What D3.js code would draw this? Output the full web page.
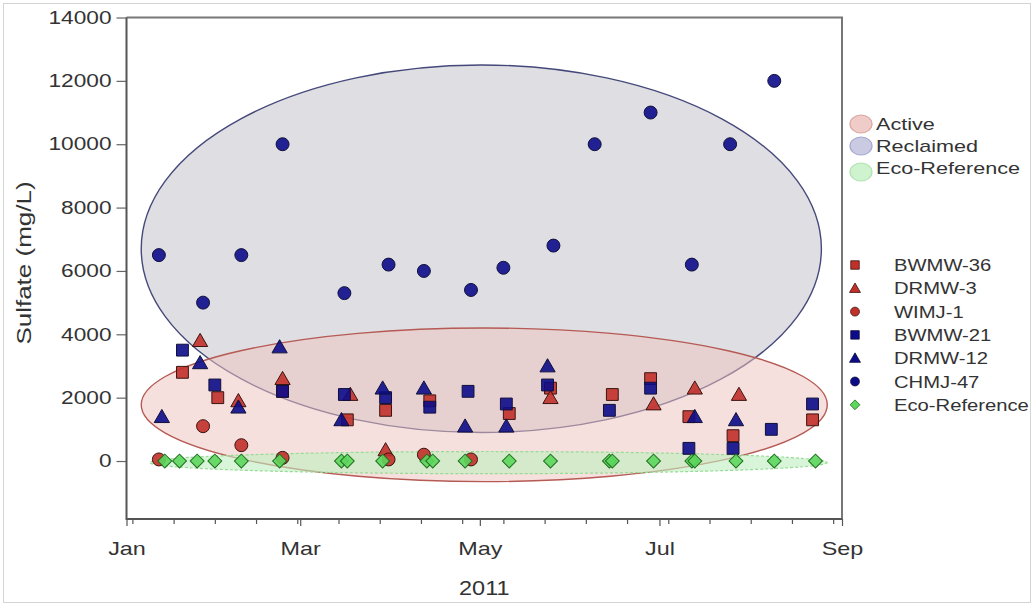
<!DOCTYPE html>
<html>
<head>
<meta charset="utf-8">
<script src="https://cdn.jsdelivr.net/npm/d3@7/dist/d3.min.js"></script>
<style>
  html, body { margin: 0; padding: 0; background: #fff; }
  svg { display: block; font-family: "Liberation Sans", Arial, sans-serif; }
</style>
</head>
<body>
<svg id="chart" width="1034" height="606"></svg>
<script>
// ---- data -------------------------------------------------------------
const yTickValues = [0, 2000, 4000, 6000, 8000, 10000, 12000, 14000];
const xTickLabels = ["Jan", "Mar", "May", "Jul", "Sep"];
const xDomain = ["2011-01-01", "2011-09-01"];
const yDomain = [-1830, 14000];

const bwmw36Dates  = ["2011-01-20","2011-02-01","2011-02-23","2011-03-17","2011-03-30","2011-04-14","2011-05-11","2011-05-25","2011-06-15","2011-06-28","2011-07-11","2011-07-26","2011-08-22"];
const bwmw36Values = [2800, 2000, 2200, 1300, 1600, 1900, 1500, 2300, 2100, 2600, 1400, 800, 1300];

const drmw3Dates  = ["2011-01-26","2011-02-08","2011-02-23","2011-03-18","2011-03-30","2011-05-25","2011-06-29","2011-07-13","2011-07-28"];
const drmw3Values = [3800, 1900, 2600, 2100, 350, 2000, 1800, 2300, 2100];

const wimj1Dates  = ["2011-01-12","2011-01-27","2011-02-09","2011-02-23","2011-03-31","2011-04-12","2011-04-28"];
const wimj1Values = [50, 1100, 500, 100, 50, 200, 50];

const bwmw21Dates  = ["2011-01-20","2011-01-31","2011-02-23","2011-03-16","2011-03-30","2011-04-14","2011-04-27","2011-05-10","2011-05-24","2011-06-14","2011-06-28","2011-07-11","2011-07-26","2011-08-08","2011-08-22"];
const bwmw21Values = [3500, 2400, 2200, 2100, 2000, 1700, 2200, 1800, 2400, 1600, 2300, 400, 400, 1000, 1800];

const drmw12Dates  = ["2011-01-13","2011-01-26","2011-02-08","2011-02-22","2011-03-15","2011-03-29","2011-04-12","2011-04-26","2011-05-10","2011-05-24","2011-07-13","2011-07-27"];
const drmw12Values = [1400, 3100, 1700, 3600, 1300, 2300, 2300, 1100, 1100, 3000, 1400, 1300];

const chmj47Dates  = ["2011-01-12","2011-01-27","2011-02-09","2011-02-23","2011-03-16","2011-03-31","2011-04-12","2011-04-28","2011-05-09","2011-05-26","2011-06-09","2011-06-28","2011-07-12","2011-07-25","2011-08-09"];
const chmj47Values = [6500, 5000, 6500, 10000, 5300, 6200, 6000, 5400, 6100, 6800, 10000, 11000, 6200, 10000, 12000];

const ecoRefDates  = ["2011-01-14","2011-01-19","2011-01-25","2011-01-31","2011-02-09","2011-02-22","2011-03-15","2011-03-17","2011-03-29","2011-04-13","2011-04-15","2011-04-26","2011-05-11","2011-05-25","2011-06-14","2011-06-15","2011-06-29","2011-07-12","2011-07-13","2011-07-27","2011-08-09","2011-08-23"];
const ecoRefValues = [0, 0, 0, 0, 0, 0, 0, 0, 0, 0, 0, 0, 0, 0, 0, 0, 0, 0, 0, 0, 0, 0];

// site-group envelopes (date span and value span of each group)
const regionNames = ["Reclaimed", "Active", "Eco-Reference"];
const regionStart = ["2011-01-06", "2011-01-06", "2011-01-09"];
const regionEnd   = ["2011-08-25", "2011-08-27", "2011-08-27"];
const regionLow   = [900, -650, -400];
const regionHigh  = [12500, 4200, 300];

const legendRegions = ["Active", "Reclaimed", "Eco-Reference"];
const seriesNames = ["BWMW-36", "DRMW-3", "WIMJ-1", "BWMW-21", "DRMW-12", "CHMJ-47", "Eco-Reference"];

// ---- setup ------------------------------------------------------------
const parse = d3.timeParse("%Y-%m-%d");
const svg = d3.select("#chart");
const W = 1034, H = 606;
const plot = { left: 126.5, right: 842, top: 17.5, bottom: 519 };

const x = d3.scaleTime().domain(xDomain.map(parse)).range([plot.left, plot.right]);
const y = d3.scaleLinear().domain(yDomain).range([plot.bottom, plot.top]);

const RED = "#c2302a", BLUE = "#0c0c8a", GREEN = "#5cd65c";
const textColor = "#333";

// the face used here is narrower than the one this chart was set in,
// so labels get a horizontal stretch around their anchor point
function widen(sel, sx) {
  sel.each(function () {
    const t = d3.select(this);
    const tx = +t.attr("x") || 0, ty = +t.attr("y") || 0;
    t.attr("x", 0).attr("y", 0).attr("transform", `translate(${tx},${ty}) scale(${sx},1)`);
  });
}

// outer thin border
svg.append("rect").attr("x", 3.5).attr("y", 3.5).attr("width", W - 7).attr("height", H - 7)
  .attr("fill", "none").attr("stroke", "#d4d4d4").attr("stroke-width", 1);

// ---- group envelopes ------------------------------------------------------
const regionStyle = {
  "Reclaimed":     { fill: "#dfdfe3", opacity: 1,    stroke: "#45487a", width: 1.4, dash: null },
  "Active":        { fill: "#edc4be", opacity: 0.52, stroke: "#b55a54", width: 1.4, dash: null },
  "Eco-Reference": { fill: "#bfeebf", opacity: 0.6,  stroke: "#96dc96", width: 1.2, dash: "3,2" }
};

const regions = regionNames.map((n, i) => ({
  name: n, x0: x(parse(regionStart[i])), x1: x(parse(regionEnd[i])),
  y0: y(regionHigh[i]), y1: y(regionLow[i])
}));

svg.append("g").selectAll("ellipse").data(regions).join("ellipse")
  .attr("cx", d => (d.x0 + d.x1) / 2)
  .attr("cy", d => (d.y0 + d.y1) / 2)
  .attr("rx", d => (d.x1 - d.x0) / 2)
  .attr("ry", d => (d.y1 - d.y0) / 2)
  .attr("fill", d => regionStyle[d.name].fill)
  .attr("fill-opacity", d => regionStyle[d.name].opacity)
  .attr("stroke", d => regionStyle[d.name].stroke)
  .attr("stroke-width", d => regionStyle[d.name].width)
  .attr("stroke-dasharray", d => regionStyle[d.name].dash);

// ---- axes ---------------------------------------------------------------
const tickFont = 18;
const axisColor = "#555";

const yAxis = d3.axisLeft(y).tickValues(yTickValues).tickSize(10).tickPadding(5).tickFormat(d3.format("d"));
const gy = svg.append("g").attr("transform", `translate(${plot.left},0)`).call(yAxis);
gy.select(".domain").remove();
gy.selectAll(".tick line").attr("stroke", "#666").attr("stroke-width", 1.2);
gy.selectAll(".tick text").attr("fill", textColor).attr("font-size", tickFont)
  .attr("font-family", "Liberation Sans, Arial, sans-serif").call(widen, 1.26);

// major ticks every other month with labels
const xMajor = d3.timeMonth.every(2).range(parse(xDomain[0]), d3.timeDay.offset(parse(xDomain[1]), 1));
const xAxis = d3.axisBottom(x).tickValues(xMajor).tickSize(7).tickPadding(16)
  .tickFormat((d, i) => xTickLabels[i]);
const gx = svg.append("g").attr("transform", `translate(0,${plot.bottom})`).call(xAxis);
gx.select(".domain").remove();
gx.selectAll(".tick line").attr("stroke", "#555").attr("stroke-width", 1.2);
gx.selectAll(".tick text").attr("fill", textColor).attr("font-size", tickFont)
  .attr("font-family", "Liberation Sans, Arial, sans-serif").call(widen, 1.3);

// minor ticks: every second Monday
const mondays = d3.timeMonday.range(parse(xDomain[0]), parse(xDomain[1]));
const xMinor = mondays.filter((d, i) => i % 2 === 0);
const xAxisMinor = d3.axisBottom(x).tickValues(xMinor).tickSize(5).tickFormat("");
const gxm = svg.append("g").attr("transform", `translate(0,${plot.bottom})`).call(xAxisMinor);
gxm.select(".domain").remove();
gxm.selectAll(".tick line").attr("stroke", "#555").attr("stroke-width", 1.2);

// frame: gray top/right, darker left/bottom axes
svg.append("path")
  .attr("d", `M${plot.left},${plot.top}H${plot.right}V${plot.bottom}`)
  .attr("fill", "none").attr("stroke", "#777").attr("stroke-width", 2);
svg.append("path")
  .attr("d", `M${plot.left},${plot.top}V${plot.bottom}H${plot.right}`)
  .attr("fill", "none").attr("stroke", axisColor).attr("stroke-width", 2);

// axis titles
svg.append("text")
  .attr("transform", `translate(31,263) rotate(-90) scale(1.3,1)`)
  .attr("text-anchor", "middle").attr("font-size", 20).attr("fill", textColor)
  .text("Sulfate (mg/L)");
svg.append("text")
  .attr("transform", `translate(${(plot.left + plot.right) / 2},595) scale(1.12,1)`)
  .attr("text-anchor", "middle").attr("font-size", 21).attr("fill", textColor)
  .text("2011");

// ---- markers ------------------------------------------------------------
const shapes = {
  square:   d3.symbol().type(d3.symbolSquare),
  triangle: d3.symbol().type(d3.symbolTriangle),
  circle:   d3.symbol().type(d3.symbolCircle),
  diamond:  d3.symbol().type(d3.symbolSquare)
};
const seriesDefs = [
  { name: "BWMW-36", dates: bwmw36Dates, values: bwmw36Values, shape: "square",   fill: RED,   stroke: "#3a1410" },
  { name: "DRMW-3",  dates: drmw3Dates,  values: drmw3Values,  shape: "triangle", fill: RED,   stroke: "#3a1410" },
  { name: "WIMJ-1",  dates: wimj1Dates,  values: wimj1Values,  shape: "circle",   fill: RED,   stroke: "#3a1410" },
  { name: "BWMW-21", dates: bwmw21Dates, values: bwmw21Values, shape: "square",   fill: BLUE,  stroke: "#10103a" },
  { name: "DRMW-12", dates: drmw12Dates, values: drmw12Values, shape: "triangle", fill: BLUE,  stroke: "#10103a" },
  { name: "CHMJ-47", dates: chmj47Dates, values: chmj47Values, shape: "circle",   fill: BLUE,  stroke: "#10103a" },
  { name: "Eco-Reference", dates: ecoRefDates, values: ecoRefValues, shape: "diamond", fill: GREEN, stroke: "#1f6e1f" }
];
const plotSize = { square: 140, triangle: 100, circle: 132, diamond: 96 };
const legendSize = { square: 72, triangle: 52, circle: 62, diamond: 48 };

function markerPath(shape, size) { return shapes[shape].size(size)(); }
function markerRotate(shape) { return shape === "diamond" ? " rotate(45)" : ""; }

const gMarks = svg.append("g");
seriesDefs.forEach(s => {
  const pts = s.dates.map((d, i) => ({ date: parse(d), value: s.values[i] }));
  gMarks.append("g").selectAll("path").data(pts).join("path")
    .attr("d", markerPath(s.shape, plotSize[s.shape]))
    .attr("transform", d => `translate(${x(d.date)},${y(d.value) + (s.shape === "triangle" ? 1.5 : 0)})${markerRotate(s.shape)}`)
    .attr("fill", s.fill).attr("fill-opacity", 0.9)
    .attr("stroke", s.stroke).attr("stroke-width", 1);
});

// ---- legends ------------------------------------------------------------
const regionLegendFill = { "Active": "#f0ccc8", "Reclaimed": "#cacbe2", "Eco-Reference": "#cff2cf" };
const regionLegendStroke = { "Active": "#d8a8a2", "Reclaimed": "#a4a8d0", "Eco-Reference": "#b0e2b0" };
const gl1 = svg.append("g");
legendRegions.forEach((n, i) => {
  const cy = 124 + i * 22;
  gl1.append("ellipse").attr("cx", 861).attr("cy", cy + (i === 2 ? 4 : 0)).attr("rx", 11).attr("ry", 9)
    .attr("fill", regionLegendFill[n]).attr("stroke", regionLegendStroke[n]).attr("stroke-width", 1.2);
  gl1.append("text").attr("x", 876).attr("y", cy + 6).attr("font-size", 17).attr("fill", textColor)
    .text(n).call(widen, 1.27);
});

const gl2 = svg.append("g");
seriesDefs.forEach((s, i) => {
  const cy = 265 + i * 23.3;
  gl2.append("path").attr("d", markerPath(s.shape, legendSize[s.shape]))
    .attr("transform", `translate(855,${cy + (s.shape === "triangle" ? 1 : 0)})${markerRotate(s.shape)}`)
    .attr("fill", s.fill).attr("stroke", s.stroke).attr("stroke-width", 0.8);
  gl2.append("text").attr("x", 894).attr("y", cy + 6).attr("font-size", 17).attr("fill", textColor)
    .text(s.name).call(widen, 1.19);
});
</script>
</body>
</html>
